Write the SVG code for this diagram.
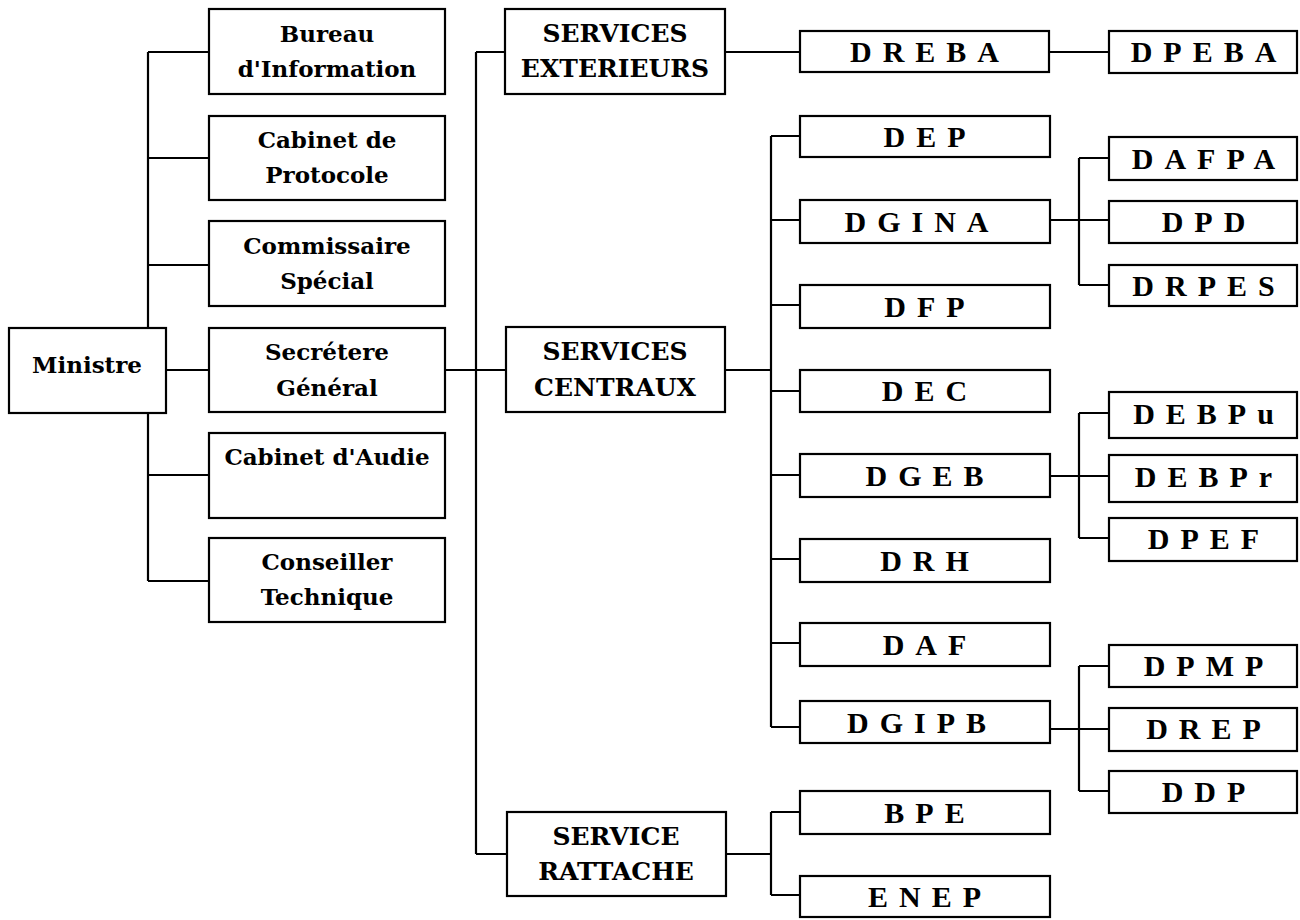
<svg xmlns="http://www.w3.org/2000/svg" width="1300" height="920" viewBox="0 0 1300 920">
<style>
.box{fill:#fff;stroke:#000;stroke-width:2.2}
.ln{fill:none;stroke:#000;stroke-width:2.2}
.t1{font-family:"DejaVu Serif","Liberation Serif",serif;font-weight:bold;font-size:23px;text-anchor:middle;fill:#000}
.t2{font-family:"DejaVu Serif","Liberation Serif",serif;font-weight:bold;font-size:25px;text-anchor:middle;fill:#000}
.t3{font-family:"Liberation Serif","Times New Roman",serif;font-weight:bold;font-size:30px;letter-spacing:11px;text-anchor:middle;fill:#000}
</style>
<rect width="1300" height="920" fill="#fff"/>
<g id="connectors" class="ln">
<path d="M148 52V581M148 52H209M148 158H209M148 265H209M148 475H209M148 581H209M166 370H209"/>
<path d="M445 370H476M476 52V854M476 52H505M476 370H506M476 854H507"/>
<path d="M725 52H800M1049 52H1109"/>
<path d="M725 370H771M771 136V727M771 136H800M771 220H800M771 305H800M771 391H800M771 475H800M771 559H800M771 643H800M771 727H800"/>
<path d="M726 854H771M771 812V895M771 812H800M771 895H800"/>
<path d="M1050 220H1109M1079 158V285M1079 158H1109M1079 285H1109"/>
<path d="M1050 476H1109M1079 413V538M1079 413H1109M1079 538H1109"/>
<path d="M1050 729H1109M1079 666V791M1079 666H1109M1079 791H1109"/>
</g>
<g id="ministre"><rect class="box" x="9" y="328" width="157" height="85"/><text class="t1" x="87" y="373">Ministre</text></g>
<g id="bureau"><rect class="box" x="209" y="9" width="236" height="85"/><text class="t1" x="327" y="42">Bureau</text><text class="t1" x="327" y="77">d'Information</text></g>
<g id="protocole"><rect class="box" x="209" y="116" width="236" height="84"/><text class="t1" x="327" y="148">Cabinet de</text><text class="t1" x="327" y="183">Protocole</text></g>
<g id="commissaire"><rect class="box" x="209" y="221" width="236" height="85"/><text class="t1" x="327" y="254">Commissaire</text><text class="t1" x="327" y="289">Spécial</text></g>
<g id="secretere"><rect class="box" x="209" y="328" width="236" height="84"/><text class="t1" x="327" y="360">Secrétere</text><text class="t1" x="327" y="396">Général</text></g>
<g id="audie"><rect class="box" x="209" y="433" width="236" height="85"/><text class="t1" x="327" y="465">Cabinet d'Audie</text></g>
<g id="conseiller"><rect class="box" x="209" y="538" width="236" height="84"/><text class="t1" x="327" y="570">Conseiller</text><text class="t1" x="327" y="605">Technique</text></g>
<g id="svc-ext"><rect class="box" x="505" y="9" width="220" height="85"/><text class="t2" x="615" y="42">SERVICES</text><text class="t2" x="615" y="77">EXTERIEURS</text></g>
<g id="svc-cent"><rect class="box" x="506" y="327" width="219" height="85"/><text class="t2" x="615" y="360">SERVICES</text><text class="t2" x="615" y="396">CENTRAUX</text></g>
<g id="svc-rat"><rect class="box" x="507" y="812" width="219" height="84"/><text class="t2" x="616" y="845">SERVICE</text><text class="t2" x="616" y="880">RATTACHE</text></g>
<g id="dreba"><rect class="box" x="800" y="31" width="249" height="41"/><text class="t3" x="930" y="62">DREBA</text></g>
<g id="dpeba"><rect class="box" x="1109" y="31" width="188" height="42"/><text class="t3" x="1209" y="62">DPEBA</text></g>
<g id="dep"><rect class="box" x="800" y="116" width="250" height="41"/><text class="t3" x="930" y="147">DEP</text></g>
<g id="dgina"><rect class="box" x="800" y="200" width="250" height="43"/><text class="t3" x="922" y="232">DGINA</text></g>
<g id="dfp"><rect class="box" x="800" y="285" width="250" height="43"/><text class="t3" x="930" y="317">DFP</text></g>
<g id="dec"><rect class="box" x="800" y="370" width="250" height="42"/><text class="t3" x="930" y="401">DEC</text></g>
<g id="dgeb"><rect class="box" x="800" y="454" width="250" height="43"/><text class="t3" x="930" y="486">DGEB</text></g>
<g id="drh"><rect class="box" x="800" y="539" width="250" height="43"/><text class="t3" x="930" y="571">DRH</text></g>
<g id="daf"><rect class="box" x="800" y="623" width="250" height="43"/><text class="t3" x="930" y="655">DAF</text></g>
<g id="dgipb"><rect class="box" x="800" y="701" width="250" height="42"/><text class="t3" x="922" y="733">DGIPB</text></g>
<g id="bpe"><rect class="box" x="800" y="791" width="250" height="43"/><text class="t3" x="930" y="823">BPE</text></g>
<g id="enep"><rect class="box" x="800" y="876" width="250" height="41"/><text class="t3" x="930" y="907">ENEP</text></g>
<g id="dafpa"><rect class="box" x="1109" y="137" width="188" height="43"/><text class="t3" x="1209" y="169">DAFPA</text></g>
<g id="dpd"><rect class="box" x="1109" y="201" width="188" height="42"/><text class="t3" x="1209" y="232">DPD</text></g>
<g id="drpes"><rect class="box" x="1109" y="265" width="188" height="41"/><text class="t3" x="1209" y="296">DRPES</text></g>
<g id="debpu"><rect class="box" x="1109" y="392" width="188" height="46"/><text class="t3" x="1209" y="424">DEBPu</text></g>
<g id="debpr"><rect class="box" x="1109" y="455" width="188" height="47"/><text class="t3" x="1209" y="487">DEBPr</text></g>
<g id="dpef"><rect class="box" x="1109" y="518" width="188" height="43"/><text class="t3" x="1209" y="549">DPEF</text></g>
<g id="dpmp"><rect class="box" x="1109" y="645" width="188" height="42"/><text class="t3" x="1209" y="676">DPMP</text></g>
<g id="drep"><rect class="box" x="1109" y="708" width="188" height="43"/><text class="t3" x="1209" y="739">DREP</text></g>
<g id="ddp"><rect class="box" x="1109" y="771" width="188" height="42"/><text class="t3" x="1209" y="802">DDP</text></g>
</svg>
